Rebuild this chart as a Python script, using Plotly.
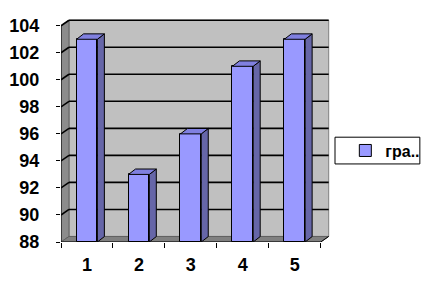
import plotly.graph_objects as go

categories = [1, 2, 3, 4, 5]
values = [103, 93, 96, 101, 103]
y_ticks = [88, 90, 92, 94, 96, 98, 100, 102, 104]
series_name = "гра.."

YMIN, YMAX = 88, 104
DX, DY = 0.154, 0.41      # wall depth in axis units
BDX, BDY = 0.135, 0.40    # bar depth in axis units
BW = 0.4
XL, XR = 0.5, 5.5

FRONT = "#9999FF"
SIDE = "#6666A8"
TOP = "#8080E0"
FONT = "Arial"

fig = go.Figure()

shapes = []
# back wall
shapes.append(dict(type="rect", xref="x", yref="y", x0=XL + DX, x1=XR + DX, y0=YMIN + DY, y1=YMAX + DY,
                   fillcolor="#C0C0C0", line=dict(color="#808080", width=1), layer="below"))
# left wall
shapes.append(dict(type="path", xref="x", yref="y",
                   path=f"M{XL},{YMIN} L{XL+DX},{YMIN+DY} L{XL+DX},{YMAX+DY} L{XL},{YMAX} Z",
                   fillcolor="#8C8C8C", line=dict(color="#606060", width=1), layer="below"))
# floor
shapes.append(dict(type="path", xref="x", yref="y",
                   path=f"M{XL},{YMIN} L{XL+DX},{YMIN+DY} L{XR+DX},{YMIN+DY} L{XR},{YMIN} Z",
                   fillcolor="#808080", line=dict(color="#606060", width=1), layer="below"))
# gridlines
for t in y_ticks[1:]:
    shapes.append(dict(type="line", xref="x", yref="y", x0=XL + DX, x1=XR + DX, y0=t + DY, y1=t + DY,
                       line=dict(color="black", width=1.6), layer="below"))
    shapes.append(dict(type="line", xref="x", yref="y", x0=XL, x1=XL + DX, y0=t, y1=t + DY,
                       line=dict(color="black", width=1.6), layer="below"))
# front axes
shapes.append(dict(type="line", xref="x", yref="y", x0=XL, x1=XL, y0=YMIN, y1=YMAX,
                   line=dict(color="black", width=1)))
shapes.append(dict(type="line", xref="x", yref="y", x0=XL, x1=XR, y0=YMIN, y1=YMIN,
                   line=dict(color="black", width=1)))
shapes.append(dict(type="line", xref="x", yref="y", x0=XR, x1=XR + DX, y0=YMIN, y1=YMIN + DY,
                   line=dict(color="black", width=1)))

# bar side and top faces
for c, v in zip(categories, values):
    xr = c + BW / 2
    xl = c - BW / 2
    shapes.append(dict(type="path", xref="x", yref="y",
                       path=f"M{xr},{YMIN} L{xr+BDX},{YMIN+BDY} L{xr+BDX},{v+BDY} L{xr},{v} Z",
                       fillcolor=SIDE, line=dict(color="black", width=1)))
    shapes.append(dict(type="path", xref="x", yref="y",
                       path=f"M{xl},{v} L{xl+BDX},{v+BDY} L{xr+BDX},{v+BDY} L{xr},{v} Z",
                       fillcolor=TOP, line=dict(color="black", width=1)))

# legend frame (paper coords)
shapes.append(dict(type="rect", xref="paper", yref="paper", x0=1.0186, x1=1.334, y0=0.35, y1=0.47,
                   fillcolor="white", line=dict(color="black", width=1), layer="below"))

fig.add_trace(go.Bar(x=categories, y=[v - YMIN for v in values], base=YMIN, width=BW,
                     name=series_name, showlegend=True,
                     marker=dict(color=FRONT, line=dict(color="black", width=1))))

fig.update_layout(
    width=423, height=285,
    margin=dict(l=60.7, r=93, t=19, b=43.3, pad=0, autoexpand=False),
    paper_bgcolor="white", plot_bgcolor="rgba(0,0,0,0)",
    shapes=shapes,
    showlegend=True,
    legend=dict(x=1.057, y=0.41, xanchor="left", yanchor="middle",
                borderwidth=0, bgcolor="rgba(0,0,0,0)",
                font=dict(family=FONT, size=16, color="black", weight=700)),
    font=dict(family=FONT, size=18, color="black", weight=700),
    bargap=0,
)
fig.update_xaxes(range=[0.5, 5.679], tickvals=categories, ticktext=[str(c) for c in categories],
                 ticks="", showgrid=False, zeroline=False, showline=False,
                 tickfont=dict(family=FONT, size=18, color="black", weight=700),
                 minor=dict(tickvals=[0.5, 1.5, 2.5, 3.5, 4.5, 5.5], ticks="outside", ticklen=5,
                            tickcolor="black", showgrid=False),
                 ticklabelstandoff=10)
fig.update_yaxes(range=[88, 104.5], tickvals=y_ticks, ticktext=[str(t) for t in y_ticks],
                 ticks="outside", ticklen=4, tickcolor="black",
                 showgrid=False, zeroline=False, showline=False,
                 tickfont=dict(family=FONT, size=18, color="black", weight=700),
                 ticklabelstandoff=13)

fig.write_html("out.html")
